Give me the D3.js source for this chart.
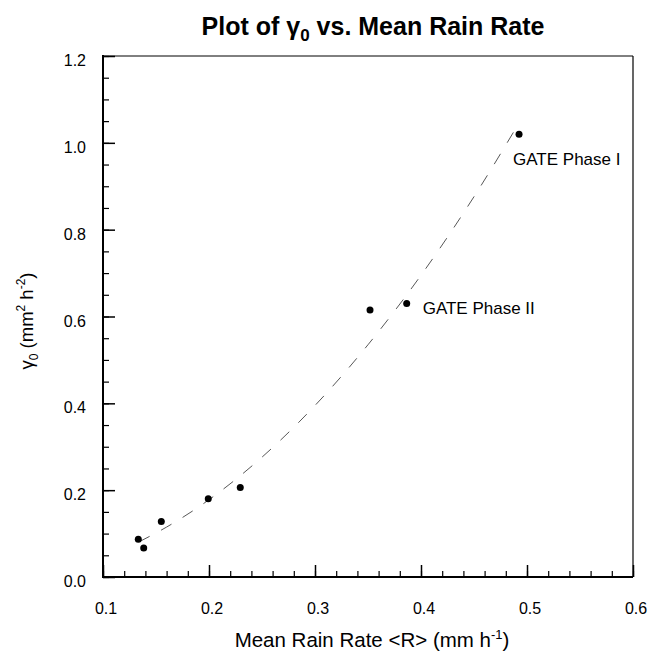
<!DOCTYPE html>
<html>
<head>
<meta charset="utf-8">
<script src="https://cdn.jsdelivr.net/npm/d3@7"></script>
<style>
  body { margin: 0; background: #fff; }
  svg { font-family: "Liberation Sans", Arial, sans-serif; }
</style>
</head>
<body>
<div id="app"></div>
<script>
// observed points
var rainRate = [0.1333, 0.1384, 0.155, 0.1993, 0.2295, 0.3519, 0.3865, 0.4925];
var gamma0   = [0.087, 0.067, 0.128, 0.180, 0.206, 0.615, 0.630, 1.020];
// dashed fit curve
var fitX = [0.134, 0.16, 0.2, 0.25, 0.3, 0.35, 0.4, 0.45, 0.4925];
var fitY = [0.081, 0.115, 0.178, 0.276, 0.395, 0.535, 0.695, 0.876, 1.046];
var xTicks = [0.1, 0.2, 0.3, 0.4, 0.5, 0.6];
var yTicks = [0.0, 0.2, 0.4, 0.6, 0.8, 1.0, 1.2];
var notes = [{x: 0.4925, y: 1.020, label: 'GATE Phase I', dx: -6, dy: 31},
             {x: 0.3865, y: 0.630, label: 'GATE Phase II', dx: 16, dy: 11}];

var width = 663, height = 655;
var pLeft = 103, pRight = 633, pTop = 56, pBottom = 577;

var svg = d3.select('#app')
  .append('svg')
    .attr('width', width)
    .attr('height', height);

var x = d3.scaleLinear().domain([0.1, 0.6]).range([pLeft, pRight]);
var y = d3.scaleLinear().domain([0, 1.2]).range([pBottom, pTop]);

// frame (top / right)
svg.append('line')
    .attr('x1', pLeft).attr('x2', pRight)
    .attr('y1', pTop).attr('y2', pTop)
    .attr('stroke', '#000').attr('stroke-width', 1);
svg.append('line')
    .attr('x1', pRight).attr('x2', pRight)
    .attr('y1', pTop).attr('y2', pBottom)
    .attr('stroke', '#000').attr('stroke-width', 1.2);

// ticks pointing inward
var minorX = d3.range(0, 26).map(function(i){ return 0.1 + i * 0.02; });
var minorY = d3.range(0, 25).map(function(i){ return i * 0.05; });

function clean(g){ g.select('.domain').remove(); }

svg.append('g')
    .attr('transform', 'translate(0,' + pBottom + ')')
    .call(d3.axisTop(x).tickValues(minorX).tickSize(6).tickFormat(''))
    .call(clean)
    .selectAll('line').attr('stroke', '#000').attr('stroke-width', 1.2);
svg.append('g')
    .attr('transform', 'translate(0,' + pBottom + ')')
    .call(d3.axisTop(x).tickValues(xTicks).tickSize(12).tickFormat(''))
    .call(clean)
    .selectAll('line').attr('stroke', '#000').attr('stroke-width', 1.5);

svg.append('g')
    .attr('transform', 'translate(' + pLeft + ',0)')
    .call(d3.axisRight(y).tickValues(minorY).tickSize(6).tickFormat(''))
    .call(clean)
    .selectAll('line').attr('stroke', '#000').attr('stroke-width', 1.2);
svg.append('g')
    .attr('transform', 'translate(' + pLeft + ',0)')
    .call(d3.axisRight(y).tickValues(yTicks).tickSize(12).tickFormat(''))
    .call(clean)
    .selectAll('line').attr('stroke', '#000').attr('stroke-width', 1.5);

// axis lines
svg.append('line')
    .attr('x1', pLeft - 1).attr('x2', pRight)
    .attr('y1', pBottom).attr('y2', pBottom)
    .attr('stroke', '#000').attr('stroke-width', 2);
svg.append('line')
    .attr('x1', pLeft).attr('x2', pLeft)
    .attr('y1', pTop - 1).attr('y2', pBottom + 1)
    .attr('stroke', '#000').attr('stroke-width', 2);

// tick labels
svg.append('g').selectAll('text')
    .data(xTicks)
  .enter().append('text')
    .attr('x', function(d){ return x(d) + 3; })
    .attr('y', pBottom + 37)
    .attr('text-anchor', 'middle')
    .attr('font-size', 16)
    .text(function(d){ return d3.format('.1f')(d); });

svg.append('g').selectAll('text')
    .data(yTicks)
  .enter().append('text')
    .attr('x', pLeft - 17)
    .attr('y', function(d){ return y(d) + 10; })
    .attr('text-anchor', 'end')
    .attr('font-size', 16)
    .text(function(d){ return d3.format('.1f')(d); });

// fit curve
var line = d3.line()
    .x(function(d){ return x(d[0]); })
    .y(function(d){ return y(d[1]); })
    .curve(d3.curveMonotoneX);

svg.append('path')
    .datum(fitX.map(function(v, i){ return [v, fitY[i]]; }))
    .attr('d', line)
    .attr('fill', 'none')
    .attr('stroke', '#444')
    .attr('stroke-width', 0.9)
    .attr('stroke-dasharray', '12,13');

// points
svg.append('g').selectAll('circle')
    .data(rainRate)
  .enter().append('circle')
    .attr('cx', function(d){ return x(d); })
    .attr('cy', function(d, i){ return y(gamma0[i]); })
    .attr('r', 3.5)
    .attr('fill', '#000');

// annotations
svg.append('g').selectAll('text')
    .data(notes)
  .enter().append('text')
    .attr('x', function(d){ return x(d.x) + d.dx; })
    .attr('y', function(d){ return y(d.y) + d.dy; })
    .attr('font-size', 17)
    .text(function(d){ return d.label; });

// title
var title = svg.append('text')
    .attr('x', 373)
    .attr('y', 35)
    .attr('text-anchor', 'middle')
    .attr('font-size', 25)
    .attr('font-weight', 'bold');
title.append('tspan').text('Plot of ');
title.append('tspan').text('γ');
title.append('tspan').attr('font-size', 17).attr('dy', 6).text('0');
title.append('tspan').attr('dy', -6).text(' vs. Mean Rain Rate');

// x title
var xt = svg.append('text')
    .attr('x', 372)
    .attr('y', 647)
    .attr('text-anchor', 'middle')
    .attr('font-size', 20.5);
xt.append('tspan').text('Mean Rain Rate <R> (mm h');
xt.append('tspan').attr('font-size', 13).attr('dy', -8).text('-1');
xt.append('tspan').attr('dy', 8).text(')');

// y title
var yt = svg.append('text')
    .attr('transform', 'translate(33,321) rotate(-90)')
    .attr('text-anchor', 'middle')
    .attr('font-size', 18.5);
yt.append('tspan').text('γ');
yt.append('tspan').attr('font-size', 12).attr('dy', 5).text('0');
yt.append('tspan').attr('dy', -5).text(' (mm');
yt.append('tspan').attr('font-size', 12).attr('dy', -8).text('2');
yt.append('tspan').attr('dy', 8).text(' h');
yt.append('tspan').attr('font-size', 12).attr('dy', -8).text('-2');
yt.append('tspan').attr('dy', 8).text(')');
</script>
</body>
</html>
